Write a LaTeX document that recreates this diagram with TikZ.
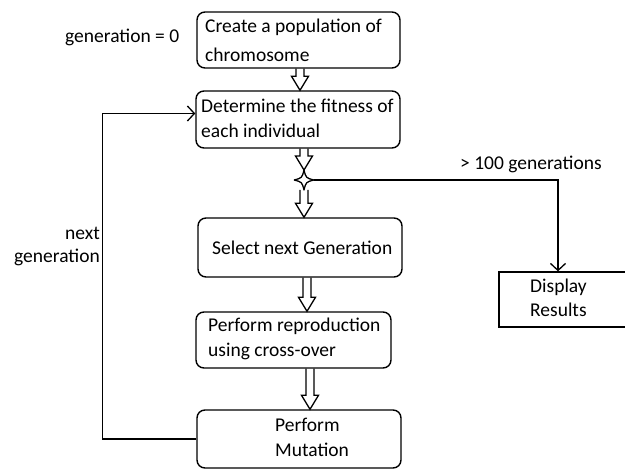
\documentclass[tikz,border=0pt]{standalone}
\usepackage{fontspec}
\setmainfont{Carlito}
\usetikzlibrary{calc,arrows.meta}
\tikzset{
  box/.style={draw, line width=1.4pt, rounded corners=8pt, inner sep=0pt},
  sqbox/.style={draw, line width=1.3pt, inner sep=0pt},
  txt/.style={inner sep=0pt, align=left, font=\fontsize{19.5}{25}\selectfont},
  rtxt/.style={inner sep=0pt, align=right, font=\fontsize{19.5}{23}\selectfont},
  conn/.style={line width=1.3pt},
  hollow/.style={line width=1.3pt, line join=miter},
  barb/.style={-{Straight Barb[length=7pt,width=15pt,line width=1.3pt]}},
}
\newcommand\hollowarrow[2]{\draw[hollow] let \p1=#1, \p2=#2 in
  (\x1-4pt,\y1) -- (\x1-4pt,\y2+14pt) -- (\x1-8.5pt,\y2+14pt) -- (\x1,\y2)
  -- (\x1+8.5pt,\y2+14pt) -- (\x1+4pt,\y2+14pt) -- (\x1+4pt,\y1);}
\begin{document}
\begin{tikzpicture}[x=1pt,y=-1pt]
\useasboundingbox (0,0) rectangle (625,470);
% boxes
\node[box, minimum width=203pt, minimum height=56pt] (b1) at (298.5,40) {};
\node[box, minimum width=204pt, minimum height=57pt] (b2) at (298,119.5) {};
\node[box, minimum width=204pt, minimum height=59pt] (b3) at (300,247.5) {};
\node[box, minimum width=195pt, minimum height=56pt] (b4) at (293.5,340) {};
\node[box, minimum width=204pt, minimum height=58pt] (b5) at (299,439) {};
\node[sqbox, minimum width=134pt, minimum height=55pt] (disp) at (566,299.5) {};
% box texts (base anchor = baseline of last line)
\node[txt, anchor=base west, font=\fontsize{19.5}{29}\selectfont] (t1) at (205,62) {Create a population of\\chromosome};
\node[txt, anchor=base west] (t2) at (201,138) {Determine the fitness of\\each individual};
\node[txt, anchor=base west] (t3) at (212,255) {Select next Generation};
\node[txt, anchor=base west] (t4) at (208,357) {Perform reproduction\\using cross-over};
\node[txt, anchor=base west] (t5) at (275,457) {Perform\\Mutation};
\node[txt, anchor=base west, font=\fontsize{19.5}{24}\selectfont] (t6) at (530,317) {Display\\Results};
% free labels
\node[txt, anchor=base west] (g0) at (65,43) {generation = 0};
\node[rtxt, anchor=base east] (ng) at (100,263) {next\\generation};
\node[txt, anchor=base west] (gt) at (460,170) {> 100 generations};
% junction
\coordinate (j) at (304,180);
\draw[conn, line join=round] ($(j)+(-10,0)$) .. controls ($(j)+(-2,-2)$) .. ($(j)+(0,-10)$)
  .. controls ($(j)+(2,-2)$) .. ($(j)+(10,0)$)
  .. controls ($(j)+(2,2)$) .. ($(j)+(0,10)$)
  .. controls ($(j)+(-2,2)$) .. ($(j)+(-10,0)$);
% hollow arrows
\hollowarrow{($(b1.south)+(1.5,0)$)}{(b2.north)}
\hollowarrow{($(b2.south)+(6,0)$)}{($(j)+(0,-10)$)}
\hollowarrow{($(j)+(0,10)$)}{(b3.north)}
\hollowarrow{($(b3.south)+(7,0)$)}{(b4.north)}
\hollowarrow{($(b4.south)+(16.5,0)$)}{(b5.north)}
% connectors
\draw[conn, barb] ($(j)+(10,0)$) -| ($(disp.north)+(-8,0)$);
\draw[conn, barb] (b5.west) -- ++(-94,0) |- ($(b2.west)+(0,-6)$);
\end{tikzpicture}
\end{document}
